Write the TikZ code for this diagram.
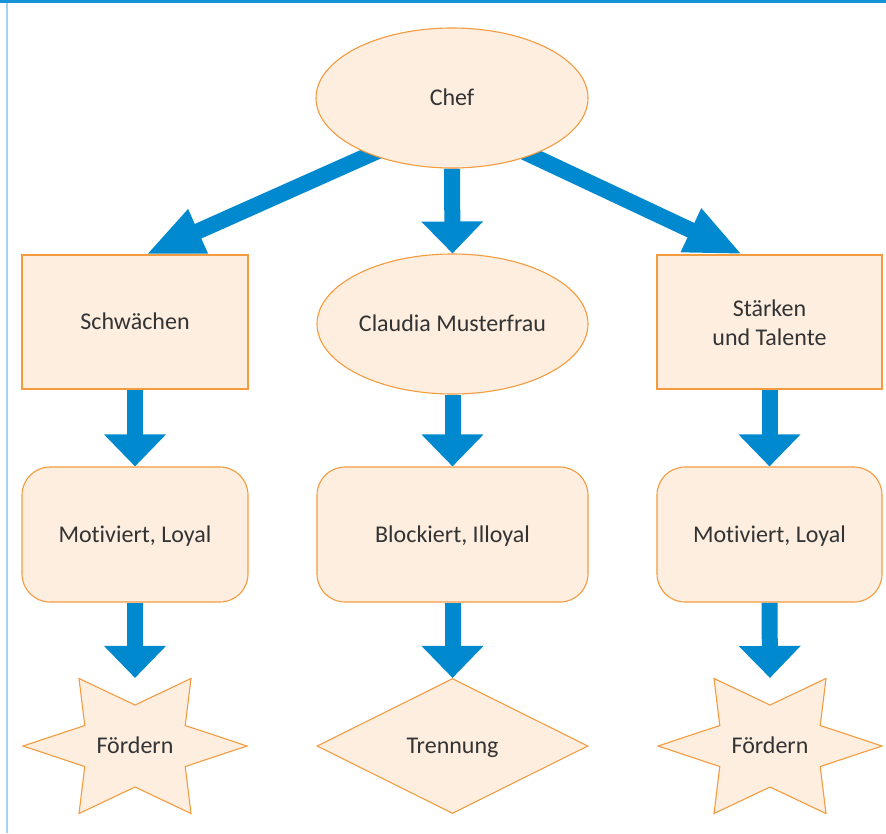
\documentclass[tikz,border=0pt]{standalone}
\usepackage{fontspec}
\setmainfont[Ligatures={NoCommon,NoContextual}]{Carlito}
\usetikzlibrary{arrows.meta,shapes.geometric,backgrounds}

\definecolor{pfeilblau}{RGB}{0,137,207}
\definecolor{rahmenorange}{RGB}{243,155,63}
\definecolor{pfirsich}{RGB}{253,238,224}
\definecolor{schrift}{RGB}{51,51,51}
\definecolor{linieoben}{RGB}{22,146,214}
\definecolor{linielinks}{RGB}{166,210,242}

\tikzset{
  feld/.style={draw=rahmenorange, fill=pfirsich, line width=1.1pt, text=schrift,
    font=\fontsize{24}{29}\selectfont, align=center, inner sep=0pt,
    text height=15.5pt, text depth=0pt},
  kasten/.style={feld, rectangle, minimum width=226pt, minimum height=134pt},
  oval/.style={feld, ellipse, minimum width=272pt, minimum height=140pt},
  rundkasten/.style={kasten, rounded corners=28pt, minimum height=135pt},
  raute/.style={feld, diamond, minimum width=271pt, minimum height=135pt},
  sternfeld/.style={feld, draw=none, fill=none, minimum width=224pt, minimum height=135pt},
  pfeil/.style={draw=pfeilblau, line width=16pt, -{Triangle[length=32pt,width=60pt]}},
  schraegpfeil/.style={pfeil, -{Triangle[length=57pt,width=44pt]}}
}

% six-pointed star around a (blank) node
\newcommand{\sechsstern}[1]{%
  \draw[draw=rahmenorange, fill=pfirsich, line width=1.1pt, shift={(#1.center)}]
    (0:112pt and 78pt) -- (30:58pt and 41pt) -- (60:112pt and 78pt) -- (90:58pt and 41pt)
    -- (120:112pt and 78pt) -- (150:58pt and 41pt) -- (180:112pt and 78pt) -- (210:58pt and 41pt)
    -- (240:112pt and 78pt) -- (270:58pt and 41pt) -- (300:112pt and 78pt) -- (330:58pt and 41pt)
    -- cycle;}

\begin{document}
\begin{tikzpicture}[x=1pt, y=-1pt]
  \useasboundingbox (0,0) rectangle (886,833);

  % ---- frame lines ----
  \draw[linieoben, line width=3pt] (0,1.5) -- (886,1.5);
  \draw[linielinks, line width=2pt] (7,3) -- (7,833);

  % ---- top ----
  \node[oval] (chef) at (452,98) {Chef};

  % ---- second row ----
  \node[kasten] (schw) at (135,322) {Schwächen};
  \node[oval, minimum width=271pt] (claudia) at (452.5,324) {Claudia Musterfrau};
  \node[kasten, minimum width=225pt, text height=47.5pt] (staerk) at (769.5,322) {Stärken\\und Talente};

  % ---- third row ----
  \node[rundkasten] (mot1) at (135,534.5) {Motiviert, Loyal};
  \node[rundkasten, minimum width=271pt] (block) at (452.5,534.5) {Blockiert, Illoyal};
  \node[rundkasten, minimum width=225pt] (mot2) at (769.5,534.5) {Motiviert, Loyal};

  % ---- bottom row ----
  \node[sternfeld] (foerd1) at (135,746) {Fördern};
  \node[raute] (trenn) at (452.5,746) {Trennung};
  \node[sternfeld] (foerd2) at (770,746) {Fördern};

  \begin{scope}[on background layer]
    \sechsstern{foerd1}
    \sechsstern{foerd2}
    % arrows
    \draw[schraegpfeil] ([yshift=-20pt]chef.center) -- ([xshift=11pt]schw.north);
    \draw[schraegpfeil] ([yshift=-20pt]chef.center) -- ([xshift=-27pt]staerk.north);
    \draw[pfeil] (chef.south) -- (claudia.north);
    \foreach \a/\b in {schw/mot1, claudia/block, staerk/mot2,
                       mot1/foerd1, block/trenn, mot2/foerd2}
      \draw[pfeil] (\a.south) -- (\b.north);
  \end{scope}
\end{tikzpicture}
\end{document}
